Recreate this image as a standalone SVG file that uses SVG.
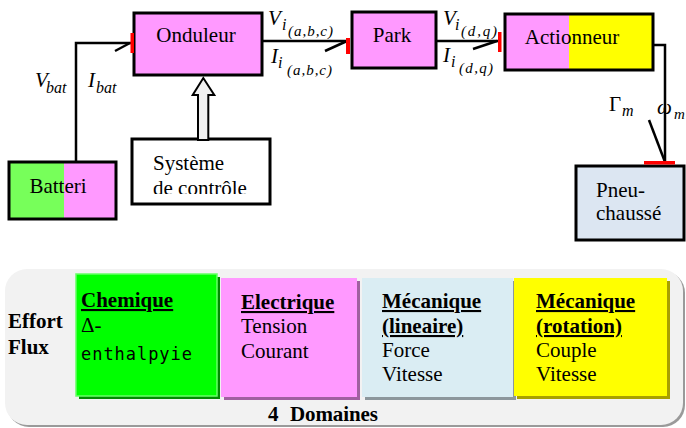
<svg xmlns="http://www.w3.org/2000/svg" width="686" height="428" viewBox="0 0 686 428">
<style>
text{font-family:"Liberation Serif","Times New Roman",serif;fill:#000}
.lbl{font-size:21px}
.box{stroke:#000;stroke-width:3}
.wire{fill:none;stroke:#000;stroke-width:2.5}
.port{fill:#f00}
.mi{font-style:italic;font-size:21px}
.sub{font-style:italic;font-size:16px}
.ssub{font-style:italic;font-size:15px}
.b{font-weight:bold;font-size:21px}
.u{text-decoration:underline}
.mono{font-family:"DejaVu Sans Mono","Liberation Mono",monospace;font-size:17px}
</style>
<defs>
  <clipPath id="ctrlClip"><rect x="132" y="139" width="138" height="55"/></clipPath>
</defs>
<rect width="686" height="428" fill="#fff"/>

<!-- blocks of the power chain -->
<g id="onduleur">
  <rect class="box" x="134" y="13" width="128" height="62" fill="#ff99ff"/>
  <text class="lbl" x="196" y="42" text-anchor="middle">Onduleur</text>
</g>
<g id="park">
  <rect class="box" x="352" y="12" width="84" height="56" fill="#ff99ff"/>
  <text class="lbl" x="392" y="42" text-anchor="middle">Park</text>
</g>
<g id="actionneur">
  <rect x="505" y="14" width="64" height="56" fill="#ff99ff"/>
  <rect x="569" y="14" width="84" height="56" fill="#ffff00"/>
  <rect class="box" x="505" y="14" width="148" height="56" fill="none"/>
  <text class="lbl" x="572" y="44" text-anchor="middle">Actionneur</text>
</g>
<g id="batteri">
  <rect x="9" y="162" width="55" height="57" fill="#77ff5a"/>
  <rect x="64" y="162" width="52" height="57" fill="#ff99ff"/>
  <rect class="box" x="9" y="162" width="107" height="57" fill="none"/>
  <text class="lbl" x="58" y="193" text-anchor="middle">Batteri</text>
</g>
<g id="systeme-controle">
  <rect class="box" x="132" y="139" width="138" height="65" fill="#fff"/>
  <g clip-path="url(#ctrlClip)">
    <text class="lbl" x="153" y="170">Système</text>
    <text class="lbl" x="153" y="194.5">de contrôle</text>
  </g>
</g>
<g id="pneu-chausse">
  <rect class="box" x="576" y="166" width="108" height="74" fill="#dce6f2"/>
  <text class="lbl" x="596" y="197">Pneu-</text>
  <text class="lbl" x="596" y="220">chaussé</text>
</g>

<!-- connectors with their ports and variable labels -->
<g id="connectors">
  <path class="wire" d="M76,162 V43 H131"/>
  <path class="wire" d="M115,51 L130,43"/>
  <rect class="port" x="130.5" y="33" width="3.5" height="20"/>

  <path class="wire" d="M262,41 H347"/>
  <path class="wire" d="M325,51 L347,41"/>
  <rect class="port" x="346" y="38" width="4" height="16"/>

  <path class="wire" d="M436,41 H499"/>
  <path class="wire" d="M473,49 L497,41"/>
  <rect class="port" x="498" y="32" width="3.5" height="20"/>

  <path class="wire" d="M653,45 H665 V162"/>
  <path class="wire" d="M649,120 L665,162"/>
  <rect class="port" x="644" y="161" width="31" height="3.5"/>

  <polygon points="198,140 198,95 192.7,95 203.3,78 214.3,95 208.3,95 208.3,140" fill="#f0f0f0" stroke="#000" stroke-width="2"/>

  <text class="mi" x="35" y="87">V</text><text class="sub" x="46" y="93">bat</text>
  <text class="mi" x="88" y="87">I</text><text class="sub" x="96" y="93">bat</text>

  <text class="mi" x="268" y="25">V</text><text class="sub" x="282" y="30">i</text>
  <text class="ssub" x="288" y="36" textLength="45">(a,b,c)</text>
  <text class="mi" x="271" y="63">I</text><text class="sub" x="278" y="68">i</text>
  <text class="ssub" x="287" y="75" textLength="45">(a,b,c)</text>

  <text class="mi" x="443" y="25">V</text><text class="sub" x="455" y="30">i</text>
  <text class="ssub" x="461" y="36" textLength="36">(d,q)</text>
  <text class="mi" x="443" y="62">I</text><text class="sub" x="451" y="67">i</text>
  <text class="ssub" x="459" y="73" textLength="34">(d,q)</text>

  <text class="lbl" x="609" y="111">Γ</text><text class="sub" x="622" y="116">m</text>
  <text class="mi" x="657" y="114">ω</text><text class="ssub" x="674" y="119" font-size="13">m</text>
</g>

<!-- energy domain panel -->
<g id="domaines">
  <rect x="7" y="271" width="678" height="156" rx="22" fill="#9a9a9a"/>
  <rect x="5" y="269" width="678" height="156" rx="22" fill="#f2f2f2"/>

  <text class="b" x="8" y="328">Effort</text>
  <text class="b" x="8" y="354">Flux</text>

  <rect x="79" y="277" width="141" height="122" fill="#008a00"/>
  <rect x="76" y="274" width="141" height="122" fill="#00ff00" stroke="#66ff66" stroke-width="1.5"/>
  <text class="b u" x="81" y="307">Chemique</text>
  <text class="lbl" x="81" y="332">Δ-</text>
  <text class="mono" x="81" y="360" textLength="111">enthalpyie</text>

  <rect x="224" y="281" width="136" height="119" fill="#a060a0"/>
  <rect x="221" y="278" width="136" height="119" fill="#ff99ff"/>
  <text class="b u" x="241" y="309">Electrique</text>
  <text class="lbl" x="241" y="333">Tension</text>
  <text class="lbl" x="241" y="358">Courant</text>

  <rect x="365" y="281" width="151" height="119" fill="#8c979c"/>
  <rect x="362" y="278" width="151" height="119" fill="#daedf3"/>
  <text class="b u" x="382" y="308">Mécanique</text>
  <text class="b u" x="382" y="333">(lineaire)</text>
  <text class="lbl" x="382" y="357">Force</text>
  <text class="lbl" x="382" y="381">Vitesse</text>

  <rect x="517" y="281" width="153" height="118" fill="#a8a000"/>
  <rect x="514" y="278" width="153" height="118" fill="#ffff00"/>
  <text class="b u" x="536" y="308">Mécanique</text>
  <text class="b u" x="536" y="333">(rotation)</text>
  <text class="lbl" x="536" y="357">Couple</text>
  <text class="lbl" x="536" y="381">Vitesse</text>

  <text class="b" x="268" y="421">4</text>
  <text class="b" x="290" y="421" textLength="88">Domaines</text>
</g>
</svg>
